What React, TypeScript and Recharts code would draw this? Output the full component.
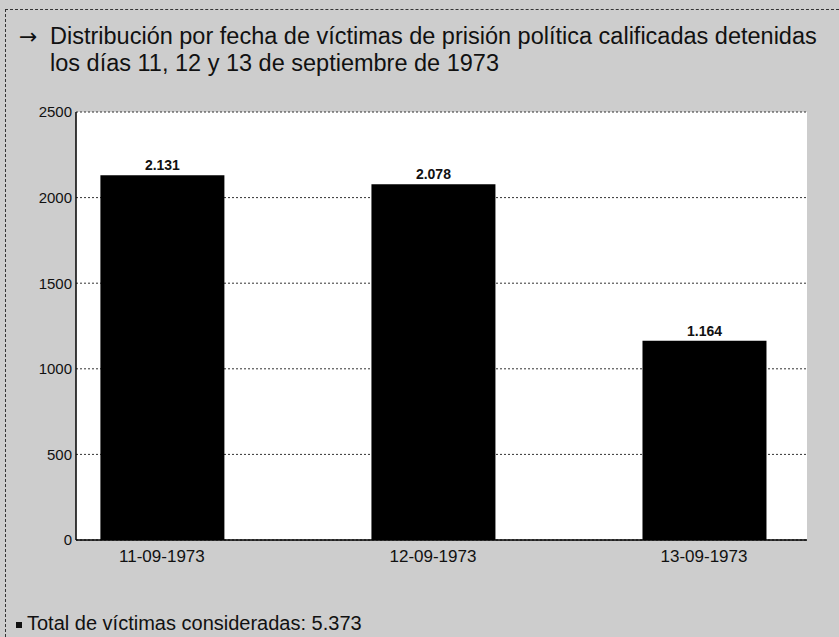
import { Bar, BarChart, CartesianGrid, LabelList, XAxis, YAxis } from "recharts";

// Detenidos por fecha (11, 12 y 13 de septiembre de 1973)
const CATEGORIES = ["11-09-1973", "12-09-1973", "13-09-1973"];
const VICTIMS = [2131, 2078, 1164];
const Y_TICKS = [0, 500, 1000, 1500, 2000, 2500];
const TOTAL = 5373;

const TITLE_LINES = [
  "Distribución por fecha de víctimas de prisión política calificadas detenidas",
  "los días 11, 12 y 13 de septiembre de 1973",
];

// thousands with "." as in the original (es-ES skips grouping for 4 digits)
const fmt = (n: number) => String(n).replace(/\B(?=(\d{3})+(?!\d))/g, ".");

const FONT = "'Liberation Sans', Arial, sans-serif";
const X_DOMAIN: [number, number] = [-0.317, 2.38];

export default function App() {
  const data = CATEGORIES.map((c, i) => ({ pos: i, fecha: c, victimas: VICTIMS[i] }));

  return (
    <div
      style={{
        position: "absolute",
        left: 0,
        top: 0,
        width: 839,
        height: 637,
        background: "#cdcdcd",
        fontFamily: FONT,
        overflow: "hidden",
      }}
    >
      {/* outer frame of the scanned figure */}
      <div
        style={{
          position: "absolute",
          left: 5,
          top: 9,
          right: 0,
          bottom: 0,
          borderLeft: "1px dashed #333",
          borderTop: "1px dashed #333",
        }}
      />

      <div
        style={{
          position: "absolute",
          left: 19,
          top: 23,
          fontSize: 23.5,
          lineHeight: "27px",
          color: "#111",
          whiteSpace: "nowrap",
        }}
      >
        <div>
          <span
            style={{
              display: "inline-block",
              width: 31,
              fontFamily: "'DejaVu Sans', sans-serif",
              fontSize: 22,
            }}
          >
            →
          </span>
          {TITLE_LINES[0]}
        </div>
        <div style={{ paddingLeft: 31 }}>{TITLE_LINES[1]}</div>
      </div>

      <div style={{ position: "absolute", left: 0, top: 0 }}>
        <BarChart
          width={839}
          height={637}
          data={data}
          margin={{ top: 112, right: 32, bottom: 67, left: 0 }}
        >
          <CartesianGrid
            vertical={false}
            fill="#ffffff"
            stroke="#333"
            strokeDasharray="2 2"
          />
          <XAxis
            dataKey="pos"
            type="number"
            domain={X_DOMAIN}
            ticks={[0, 1, 2]}
            tickFormatter={(i: number) => CATEGORIES[i] ?? ""}
            height={30}
            tickLine={false}
            tickSize={4}
            tickMargin={6}
            axisLine={{ stroke: "#000", strokeWidth: 1.5 }}
            tick={{ fill: "#111", fontSize: 17, fontFamily: FONT }}
            allowDataOverflow
          />
          <XAxis
            xAxisId="top"
            orientation="top"
            type="number"
            domain={X_DOMAIN}
            height={0}
            tick={false}
            tickLine={false}
            axisLine={{ stroke: "#222", strokeWidth: 1.5 }}
            allowDataOverflow
          />
          <YAxis
            domain={[0, 2500]}
            ticks={Y_TICKS}
            width={76}
            tickLine={false}
            tickSize={4}
            tickMargin={0}
            axisLine={{ stroke: "#000", strokeWidth: 1.5 }}
            tick={{ fill: "#111", fontSize: 15, fontFamily: FONT }}
            interval={0}
          />
          <YAxis
            yAxisId="right"
            orientation="right"
            domain={[0, 2500]}
            width={0}
            tick={false}
            tickLine={false}
            axisLine={{ stroke: "#222", strokeWidth: 1.5 }}
          />
          <Bar dataKey="victimas" fill="#000" barSize={124} isAnimationActive={false}>
            <LabelList
              dataKey="victimas"
              position="top"
              offset={5}
              formatter={(v: number) => fmt(v)}
              style={{ fill: "#111", fontSize: 14, fontWeight: 700, fontFamily: FONT }}
            />
          </Bar>
        </BarChart>
      </div>

      <div
        style={{
          position: "absolute",
          left: 16,
          top: 612,
          fontSize: 20,
          lineHeight: "22px",
          color: "#111",
          whiteSpace: "nowrap",
        }}
      >
        <span
          style={{
            display: "inline-block",
            width: 6,
            height: 6,
            background: "#111",
            marginRight: 5,
            verticalAlign: "middle",
          }}
        />
        Total de víctimas consideradas: {fmt(TOTAL)}
      </div>
    </div>
  );
}
